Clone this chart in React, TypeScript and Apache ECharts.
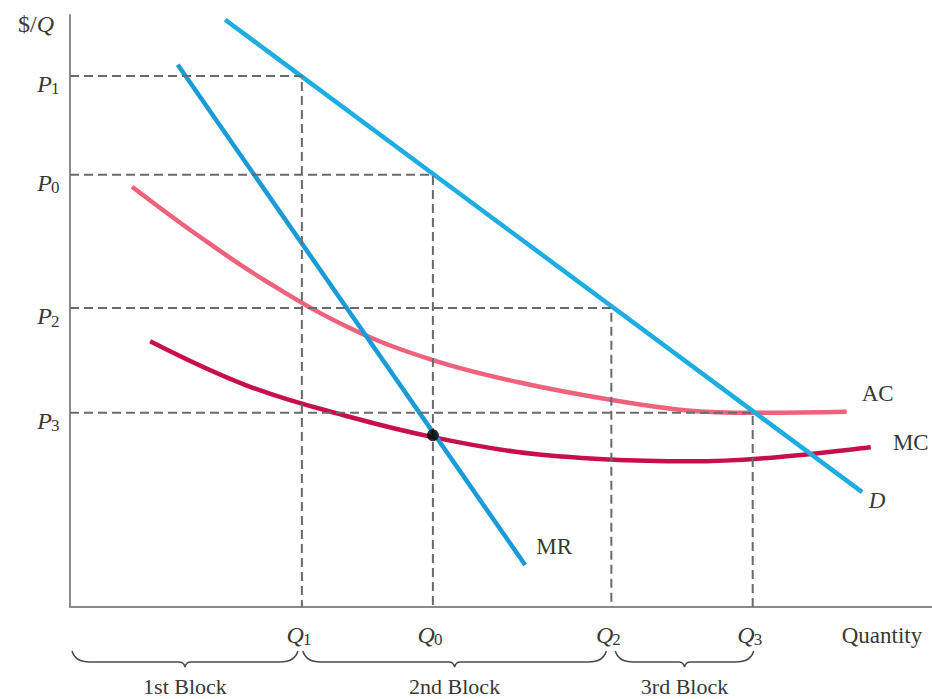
import React, { useEffect, useRef } from 'react';
import * as echarts from 'echarts';

// ---- data (arbitrary 0..100 units) ----
const quantityLevels = [26.9, 42.1, 62.8, 79.2]; // Q1, Q0, Q2, Q3
const quantitySubs = ['1', '0', '2', '3'];
const priceLevels = [89.7, 73.0, 50.5, 32.8]; // P1, P0, P2, P3
const priceSubs = ['1', '0', '2', '3'];

const demand = [[18.0, 99.2], [91.9, 19.4]];
const marginalRevenue = [[12.5, 91.6], [52.8, 7.1]];
const averageCost = [
  [7.2, 71.0], [15.1, 62.5], [22.9, 54.9],
  [32.5, 47.1], [42.1, 41.7], [51.9, 38.0], [62.7, 35.0],
  [71.6, 33.2], [79.2, 32.8], [90.1, 33.0],
];
const marginalCost = [
  [9.3, 44.9], [20.9, 37.2], [32.5, 32.1],
  [42.1, 28.7], [51.9, 26.2], [62.7, 24.9], [72.0, 24.6],
  [82.0, 25.3], [92.9, 27.0],
];
const optimum = [42.1, 29.0];

const blockNames = ['1st Block', '2nd Block', '3rd Block'];
const blockBounds = [[0, 26.9], [26.9, 62.8], [62.8, 79.2]];

const FONT = "'Liberation Serif', 'Times New Roman', serif";
const TEXT = '#383838';
const DASH = '#6a6a6a';

function subLabel(x: number, y: number, main: string, sub: string, subDy: number) {
  return [
    {
      type: 'text', x, y,
      style: { text: main, fontFamily: FONT, fontSize: 24, fontStyle: 'italic', fill: TEXT, align: 'right', verticalAlign: 'middle' },
    },
    {
      type: 'text', x: x - 1, y: y + subDy,
      style: { text: sub, fontFamily: FONT, fontSize: 17, fill: TEXT, align: 'left', verticalAlign: 'middle' },
    },
  ];
}

export default function App() {
  const ref = useRef<HTMLDivElement>(null);

  useEffect(() => {
    document.body.style.margin = '0';
    const chart = echarts.init(ref.current!, null, { renderer: 'svg' });

    const curveLine = (name: string, data: number[][], color: string, width: number, smooth: any) => ({
      name, type: 'line', data, showSymbol: false, symbol: 'none', smooth,
      lineStyle: { color, width, cap: 'butt' }, z: 2, silent: true,
    });

    const guides = quantityLevels.map((q, i) => ({
      type: 'line',
      data: [[0, priceLevels[i]], [q, priceLevels[i]], [q, 0]],
      showSymbol: false, symbol: 'none',
      lineStyle: { color: DASH, width: 2, type: [9, 5] },
      z: 3, silent: true,
    }));

    const curveLabelInfo = [
      { text: 'D', at: demand[demand.length - 1], dx: 15, dy: 8, italic: true },
      { text: 'MR', at: marginalRevenue[marginalRevenue.length - 1], dx: 29, dy: -18, italic: false },
      { text: 'AC', at: averageCost[averageCost.length - 1], dx: 31, dy: -18, italic: false },
      { text: 'MC', at: marginalCost[marginalCost.length - 1], dx: 40, dy: -5, italic: false },
    ];

    const option: any = {
      animation: false,
      grid: { left: 70, right: 0, top: 15, bottom: 92 },
      xAxis: {
        type: 'value', min: 0, max: 100,
        axisLine: { show: true, onZero: false, lineStyle: { color: '#8a8a8a', width: 2 } },
        axisTick: { show: false }, axisLabel: { show: false }, splitLine: { show: false },
      },
      yAxis: {
        type: 'value', min: 0, max: 100,
        axisLine: { show: true, onZero: false, lineStyle: { color: '#8a8a8a', width: 2 } },
        axisTick: { show: false }, axisLabel: { show: false }, splitLine: { show: false },
      },
      series: [
        curveLine('AC', averageCost, '#f0627c', 4.5, 0.4),
        curveLine('MC', marginalCost, '#c70f4b', 4.5, 0.4),
        curveLine('D', demand, '#1dade2', 4.5, false),
        curveLine('MR', marginalRevenue, '#1a9bd7', 4.5, false),
        ...guides,
        {
          type: 'scatter', data: [optimum], symbolSize: 12,
          itemStyle: { color: '#000' }, z: 5, silent: true,
        },
        // Q labels under the axis
        {
          type: 'custom', clip: false, silent: true, z: 6,
          data: quantityLevels.map((q) => [q, 0]),
          renderItem: (params: any, api: any) => {
            const p = api.coord([api.value(0), 0]);
            return { type: 'group', children: subLabel(p[0] + 2, p[1] + 28, 'Q', quantitySubs[params.dataIndex], 4) };
          },
        },
        // P labels left of the axis
        {
          type: 'custom', clip: false, silent: true, z: 6,
          data: priceLevels.map((v) => [0, v]),
          renderItem: (params: any, api: any) => {
            const p = api.coord([0, api.value(1)]);
            return { type: 'group', children: subLabel(p[0] - 18, p[1] + 8, 'P', priceSubs[params.dataIndex], 5) };
          },
        },
        // braces and block names
        {
          type: 'custom', clip: false, silent: true, z: 6,
          data: blockBounds,
          renderItem: (params: any, api: any) => {
            const i = params.dataIndex;
            const leftInset = [2, 1, 4][i];
            const rightInset = [4, 5, -1][i];
            const a = api.coord([api.value(0), 0]);
            const b = api.coord([api.value(1), 0]);
            const x0 = a[0] + leftInset;
            const x1 = b[0] - rightInset;
            const base = a[1];
            const yTop = base + 44, yH = base + 55, yTip = base + 60;
            const xm = (x0 + x1) / 2;
            const d = `M${x0},${yTop} Q${x0 + 3},${yH} ${x0 + 18},${yH} L${xm - 6},${yH} Q${xm - 1},${yH} ${xm},${yTip} Q${xm + 1},${yH} ${xm + 6},${yH} L${x1 - 18},${yH} Q${x1 - 3},${yH} ${x1},${yTop}`;
            return {
              type: 'group',
              children: [
                { type: 'path', shape: { pathData: d }, style: { stroke: '#4a4a4a', fill: 'none', lineWidth: 1.5 } },
                {
                  type: 'text', x: xm, y: base + 79,
                  style: { text: blockNames[i], fontFamily: FONT, fontSize: 22, fill: TEXT, align: 'center', verticalAlign: 'middle' },
                },
              ],
            };
          },
        },
        // curve names
        {
          type: 'custom', clip: false, silent: true, z: 6,
          data: curveLabelInfo.map((c) => c.at),
          renderItem: (params: any, api: any) => {
            const c = curveLabelInfo[params.dataIndex];
            const p = api.coord([api.value(0), api.value(1)]);
            return {
              type: 'text', x: p[0] + c.dx, y: p[1] + c.dy,
              style: { text: c.text, fontFamily: FONT, fontSize: 23, fontStyle: c.italic ? 'italic' : 'normal', fill: TEXT, align: 'center', verticalAlign: 'middle' },
            };
          },
        },
        // axis names
        {
          type: 'custom', clip: false, silent: true, z: 6,
          data: [[0, 100], [100, 0]],
          renderItem: (params: any, api: any) => {
            const p = api.coord([api.value(0), api.value(1)]);
            if (params.dataIndex === 0) {
              return {
                type: 'text', x: p[0] - 34, y: p[1] + 9,
                style: {
                  text: '{r|$/}{i|Q}', fontFamily: FONT, fontSize: 24, fill: TEXT, align: 'center', verticalAlign: 'middle',
                  rich: { r: { fontFamily: FONT, fontSize: 24, fill: TEXT }, i: { fontFamily: FONT, fontSize: 24, fontStyle: 'italic', fill: TEXT } },
                },
              };
            }
            return {
              type: 'text', x: p[0] - 50, y: p[1] + 28,
              style: { text: 'Quantity', fontFamily: FONT, fontSize: 23, fill: TEXT, align: 'center', verticalAlign: 'middle' },
            };
          },
        },
      ],
    };

    chart.setOption(option);
    return () => chart.dispose();
  }, []);

  return <div ref={ref} style={{ width: 932, height: 699 }} />;
}
